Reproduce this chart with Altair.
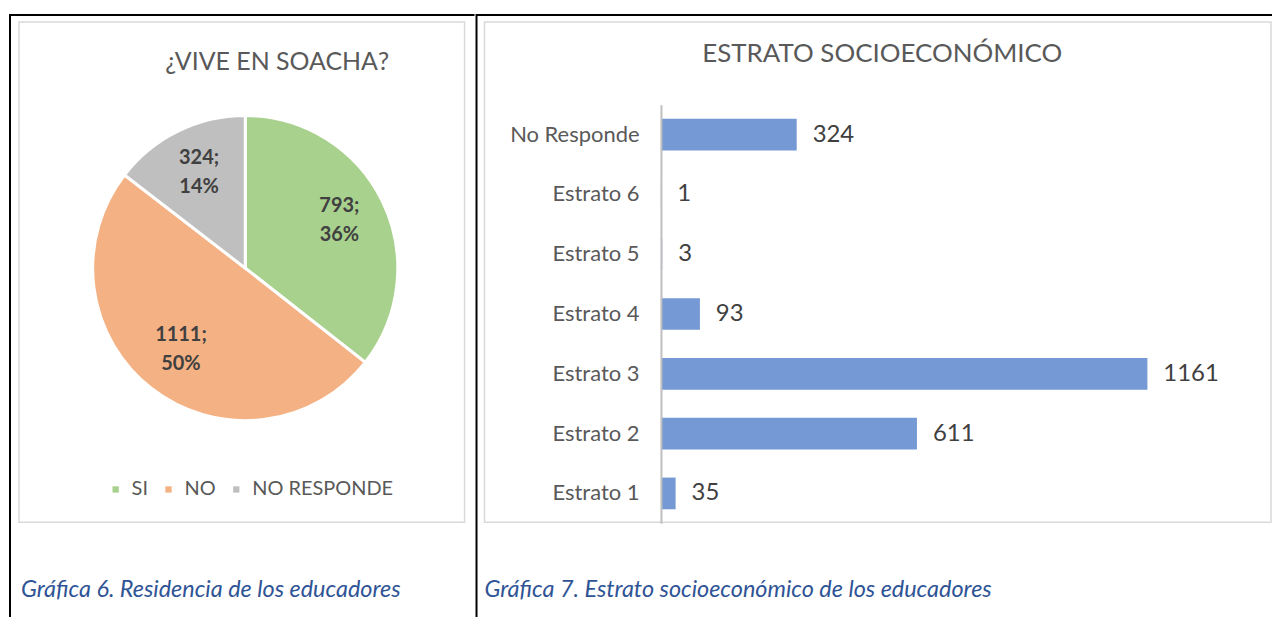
import altair as alt
import pandas as pd

# ---- data ----
pie_cats = ["SI", "NO", "NO RESPONDE"]
pie_vals = [793, 1111, 324]
pie_pcts = [36, 50, 14]
pie_colors = ["#a9d18e", "#f4b183", "#bfbfbf"]

bar_cats = ["No Responde", "Estrato 6", "Estrato 5", "Estrato 4", "Estrato 3", "Estrato 2", "Estrato 1"]
bar_vals = [324, 1, 3, 93, 1161, 611, 35]

FONT = "Lato"
W1, W2, H = 467, 798, 605

pie_df = pd.DataFrame({"cat": pie_cats, "val": pie_vals, "pct": pie_pcts, "ord": list(range(len(pie_cats)))})
pie_df["label"] = pie_df["val"].astype(str) + ";\n" + pie_df["pct"].astype(str) + "%"
bar_df = pd.DataFrame({"cat": bar_cats, "val": bar_vals})
one = pd.DataFrame({"k": [0]})


def box(x1, x2):
    return alt.Chart(one).mark_rect(fill="white", stroke="#d9d9d9", strokeWidth=1.5).encode(
        x=alt.value(x1), x2=alt.value(x2), y=alt.value(8), y2=alt.value(510))


def hrule(w):
    return alt.Chart(one).mark_rule(color="black", strokeWidth=2).encode(
        x=alt.value(0), x2=alt.value(w), y=alt.value(1))


def vrule(x):
    return alt.Chart(one).mark_rule(color="black", strokeWidth=2).encode(
        x=alt.value(x), y=alt.value(0), y2=alt.value(H))


def text_at(txt, x, y, size, color, align="center", style="normal"):
    return alt.Chart(one).mark_text(text=txt, font=FONT, fontSize=size, color=color, align=align,
                                    baseline="middle", fontStyle=style).encode(x=alt.value(x), y=alt.value(y))


# ---- left panel: pie ----
CX, CY = 237, 255
arcs = alt.Chart(pie_df).mark_arc(outerRadius=153, stroke="white", strokeWidth=3).encode(
    theta=alt.Theta("val:Q", stack=True),
    color=alt.Color("cat:N", sort=pie_cats,
                    scale=alt.Scale(domain=pie_cats, range=pie_colors),
                    legend=alt.Legend(title=None, orient="none", legendX=97, legendY=467,
                                      direction="horizontal", symbolType="square", symbolSize=40,
                                      symbolStrokeWidth=0, labelFontSize=20, labelColor="#595959",
                                      labelFont=FONT, columnPadding=10, labelOffset=6)),
    order=alt.Order("ord:Q"),
    x=alt.value(CX), y=alt.value(CY),
)
pie_labels = alt.Chart(pie_df).mark_text(radius=105, dy=-16, font=FONT, fontSize=20, fontWeight="bold",
                                         color="#404040", lineBreak="\n", lineHeight=29).encode(
    theta=alt.Theta("val:Q", stack=True),
    order=alt.Order("ord:Q"),
    text="label:N",
    x=alt.value(CX), y=alt.value(CY),
)

left = alt.layer(
    box(10, 457),
    text_at("¿VIVE EN SOACHA?", 269, 48, 25, "#595959"),
    arcs,
    pie_labels,
    text_at("Gráfica 6. Residencia de los educadores", 12, 578, 23.5, "#2f5496", align="left", style="italic"),
    hrule(W1),
    vrule(1),
).properties(width=W1, height=H)

# ---- right panel: bars ----
ysc = alt.Y("cat:N", sort=bar_cats,
            scale=alt.Scale(range=[91, 511], paddingInner=0.47, paddingOuter=0.235),
            axis=alt.Axis(title=None, offset=-185, ticks=False, grid=False, domainColor="#bfbfbf",
                          domainWidth=2, labelFontSize=22, labelColor="#595959", labelFont=FONT,
                          labelPadding=22, zindex=1))
xsc = alt.X("val:Q", scale=alt.Scale(domain=[0, 1161], range=[185, 673], nice=False), axis=None)

bars = alt.Chart(bar_df).mark_bar(color="#7499d4").encode(x=xsc, y=ysc)
bar_labels = alt.Chart(bar_df).mark_text(align="left", dx=16, font=FONT, fontSize=24, color="#404040").encode(
    x=xsc, y=ysc, text="val:Q")

right = alt.layer(
    box(8, 797),
    text_at("ESTRATO SOCIOECONÓMICO", 407, 40, 26, "#595959"),
    bars,
    bar_labels,
    text_at("Gráfica 7. Estrato socioeconómico de los educadores", 8, 578, 23.5, "#2f5496", align="left", style="italic"),
    hrule(W2),
    vrule(0),
).properties(width=W2, height=H)

chart = alt.hconcat(left, right, spacing=0).configure_view(stroke=None).properties(
    padding={"left": 0, "top": 4, "right": 0, "bottom": 0})

chart.save("out.html", embed_options={"renderer": "svg", "actions": False})
